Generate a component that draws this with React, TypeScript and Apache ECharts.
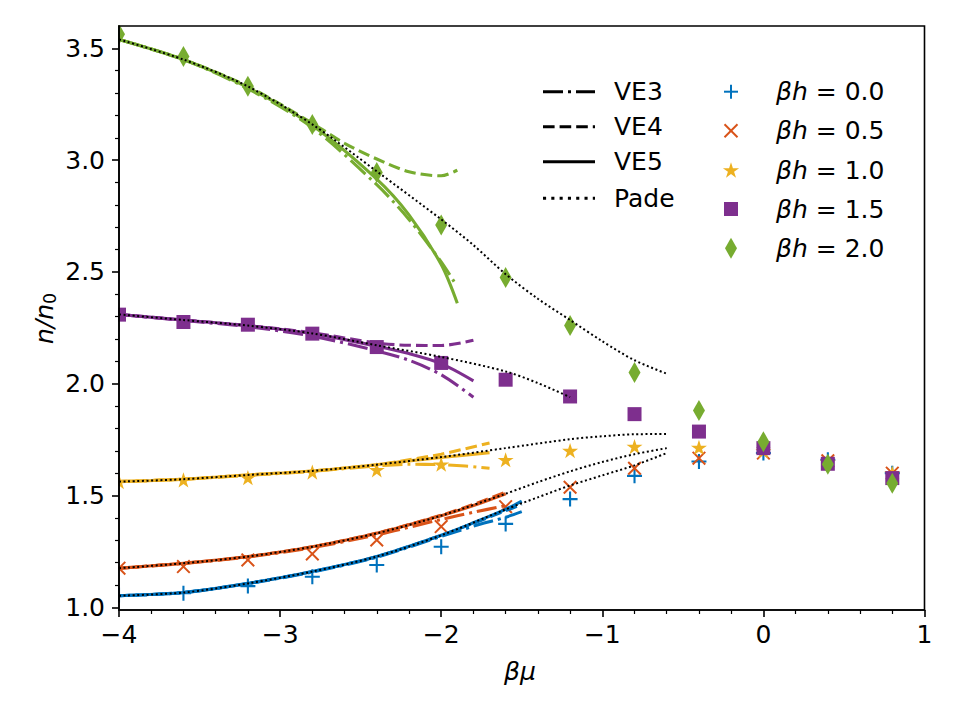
import React, { useEffect, useRef } from 'react';
import * as echarts from 'echarts';

const FONT = '"DejaVu Sans", "Liberation Sans", sans-serif';
const FS = 25;

// chemical potential grid of the simulation points
const muGrid = [-4, -3.6, -3.2, -2.8, -2.4, -2.0, -1.6, -1.2, -0.8, -0.4, 0, 0.4, 0.8];

const fieldLabels = ['0.0', '0.5', '1.0', '1.5', '2.0'];
const fieldColors = ['#0072BD', '#D95319', '#EDB120', '#7E2F8E', '#77AC30'];

// simulation data n/n0 for each βh
const sim_h00 = [1.055, 1.063, 1.095, 1.137, 1.189, 1.271, 1.373, 1.484, 1.588, 1.652, 1.69, 1.66, 1.6];
const sim_h05 = [1.175, 1.182, 1.212, 1.239, 1.301, 1.361, 1.45, 1.537, 1.622, 1.667, 1.69, 1.655, 1.6];
const sim_h10 = [1.5625, 1.57, 1.58, 1.605, 1.615, 1.64, 1.66, 1.701, 1.719, 1.715, 1.7, 1.65, 1.6];
const sim_h15 = [2.309, 2.276, 2.264, 2.224, 2.164, 2.093, 2.018, 1.943, 1.864, 1.786, 1.712, 1.642, 1.578];
const sim_h20 = [3.563, 3.464, 3.33, 3.16, 2.945, 2.71, 2.475, 2.26, 2.05, 1.88, 1.74, 1.64, 1.555];

// virial expansions (3rd, 4th, 5th order) and Pade approximant, [βμ, n/n0]
const ve3_h00 = [[-4, 1.052], [-3.6, 1.066], [-3.2, 1.106], [-2.8, 1.158], [-2.4, 1.224], [-2.0, 1.317], [-1.8, 1.363], [-1.6, 1.403], [-1.5, 1.428]];
const ve4_h00 = [[-4, 1.052], [-3.6, 1.066], [-3.2, 1.107], [-2.8, 1.16], [-2.4, 1.227], [-2.0, 1.322], [-1.8, 1.376], [-1.6, 1.432], [-1.5, 1.46]];
const ve5_h00 = [[-4, 1.052], [-3.6, 1.066], [-3.2, 1.107], [-2.8, 1.16], [-2.4, 1.227], [-2.0, 1.322], [-1.8, 1.378], [-1.6, 1.438], [-1.5, 1.475]];
const pade_h00 = [[-4, 1.052], [-3.6, 1.066], [-3.2, 1.107], [-2.8, 1.16], [-2.4, 1.227], [-2.0, 1.322], [-1.6, 1.438], [-1.4, 1.492], [-1.2, 1.545], [-1.0, 1.59], [-0.8, 1.635], [-0.6, 1.69]];

const ve3_h05 = [[-4, 1.175], [-3.6, 1.196], [-3.2, 1.225], [-2.8, 1.267], [-2.4, 1.324], [-2.0, 1.393], [-1.8, 1.425], [-1.6, 1.455]];
const ve4_h05 = [[-4, 1.175], [-3.6, 1.197], [-3.2, 1.227], [-2.8, 1.271], [-2.4, 1.332], [-2.0, 1.412], [-1.8, 1.46], [-1.6, 1.515]];
const ve5_h05 = [[-4, 1.175], [-3.6, 1.197], [-3.2, 1.227], [-2.8, 1.271], [-2.4, 1.331], [-2.0, 1.41], [-1.8, 1.455], [-1.6, 1.508]];
const pade_h05 = [[-4, 1.175], [-3.6, 1.197], [-3.2, 1.227], [-2.8, 1.271], [-2.4, 1.331], [-2.0, 1.41], [-1.6, 1.508], [-1.4, 1.56], [-1.2, 1.608], [-1.0, 1.65], [-0.8, 1.685], [-0.6, 1.712]];

const ve3_h10 = [[-4, 1.562], [-3.6, 1.573], [-3.2, 1.59], [-2.8, 1.608], [-2.4, 1.633], [-2.2, 1.64], [-2.0, 1.638], [-1.85, 1.632], [-1.7, 1.622]];
const ve4_h10 = [[-4, 1.562], [-3.6, 1.573], [-3.2, 1.592], [-2.8, 1.61], [-2.4, 1.638], [-2.2, 1.66], [-2.0, 1.685], [-1.7, 1.735]];
const ve5_h10 = [[-4, 1.562], [-3.6, 1.573], [-3.2, 1.592], [-2.8, 1.61], [-2.4, 1.638], [-2.2, 1.655], [-2.0, 1.67], [-1.7, 1.692]];
const pade_h10 = [[-4, 1.562], [-3.6, 1.573], [-3.2, 1.592], [-2.8, 1.61], [-2.4, 1.638], [-2.0, 1.672], [-1.6, 1.712], [-1.2, 1.752], [-1.0, 1.765], [-0.8, 1.774], [-0.6, 1.775]];

const ve3_h15 = [[-4, 2.31], [-3.6, 2.283], [-3.2, 2.255], [-2.8, 2.213], [-2.4, 2.147], [-2.2, 2.105], [-2.0, 2.04], [-1.8, 1.94]];
const ve4_h15 = [[-4, 2.31], [-3.6, 2.285], [-3.2, 2.26], [-2.8, 2.228], [-2.4, 2.182], [-2.2, 2.172], [-2.0, 2.171], [-1.8, 2.194]];
const ve5_h15 = [[-4, 2.31], [-3.6, 2.285], [-3.2, 2.26], [-2.8, 2.224], [-2.4, 2.168], [-2.2, 2.135], [-2.0, 2.09], [-1.8, 2.013]];
const pade_h15 = [[-4, 2.31], [-3.6, 2.285], [-3.2, 2.26], [-2.8, 2.225], [-2.4, 2.172], [-2.0, 2.12], [-1.6, 2.055], [-1.4, 2.003], [-1.2, 1.94]];

const ve3_h20 = [[-4, 3.54], [-3.6, 3.45], [-3.2, 3.32], [-2.8, 3.145], [-2.4, 2.89], [-2.2, 2.735], [-2.0, 2.545], [-1.91, 2.445]];
const ve4_h20 = [[-4, 3.54], [-3.6, 3.45], [-3.2, 3.33], [-2.8, 3.165], [-2.6, 3.075], [-2.4, 3.005], [-2.2, 2.948], [-2.0, 2.93], [-1.9, 2.955]];
const ve5_h20 = [[-4, 3.54], [-3.6, 3.45], [-3.2, 3.325], [-2.8, 3.155], [-2.4, 2.915], [-2.2, 2.755], [-2.0, 2.533], [-1.9, 2.36]];
const pade_h20 = [[-4, 3.54], [-3.6, 3.45], [-3.2, 3.33], [-2.8, 3.16], [-2.4, 2.95], [-2.0, 2.735], [-1.8, 2.62], [-1.6, 2.49], [-1.4, 2.38], [-1.2, 2.285], [-1.0, 2.19], [-0.8, 2.105], [-0.6, 2.045]];

const simSets = [sim_h00, sim_h05, sim_h10, sim_h15, sim_h20];
const ve3Sets = [ve3_h00, ve3_h05, ve3_h10, ve3_h15, ve3_h20];
const ve4Sets = [ve4_h00, ve4_h05, ve4_h10, ve4_h15, ve4_h20];
const ve5Sets = [ve5_h00, ve5_h05, ve5_h10, ve5_h15, ve5_h20];
const padeSets = [pade_h00, pade_h05, pade_h10, pade_h15, pade_h20];

const yMajor = [1.0, 1.5, 2.0, 2.5, 3.0, 3.5];
const yMinor = [1.1, 1.2, 1.3, 1.4, 1.6, 1.7, 1.8, 1.9, 2.1, 2.2, 2.3, 2.4, 2.6, 2.7, 2.8, 2.9, 3.1, 3.2, 3.3, 3.4];

// marker glyphs
const PLUS = 'path://M0.43,0 L0.57,0 L0.57,0.43 L1,0.43 L1,0.57 L0.57,0.57 L0.57,1 L0.43,1 L0.43,0.57 L0,0.57 L0,0.43 L0.43,0.43 Z';
const CROSS = 'path://M0,0.1 L0.1,0 L1,0.9 L0.9,1 Z M0.9,0 L1,0.1 L0.1,1 L0,0.9 Z';
const STAR = 'path://M0,-1 L0.2245,-0.309 L0.951,-0.309 L0.363,0.118 L0.588,0.809 L0,0.382 L-0.588,0.809 L-0.363,0.118 L-0.951,-0.309 L-0.2245,-0.309 Z';
const markerSymbols = [PLUS, CROSS, STAR, 'rect', 'diamond'];
const markerSizes: any[] = [15, 14, 16, 14, [12, 21]];

const DASHDOT = [20, 5, 3, 5];
const DASHED = [11.6, 5];
const DOTTED = [2, 2.6];
const VE_WIDTH = 3.1;

// plot frame in pixels (grid placement)
const GRID = { left: 119, right: 35.5, top: 26, bottom: 110 };

function starPoints(cx: number, cy: number, r: number) {
  const pts: number[][] = [];
  for (let k = 0; k < 10; k++) {
    const ang = -Math.PI / 2 + (k * Math.PI) / 5;
    const rr = k % 2 === 0 ? r : r * 0.382;
    pts.push([cx + rr * Math.cos(ang), cy + rr * Math.sin(ang)]);
  }
  return pts;
}

function buildLegend() {
  const els: any[] = [];
  const styleRows = [
    { name: 'VE3', dash: DASHDOT, y: 91.7 },
    { name: 'VE4', dash: DASHED, y: 126.7 },
    { name: 'VE5', dash: null, y: 161.7 },
    { name: 'Pade', dash: [3.1, 5.2], y: 198.3 },
  ];
  styleRows.forEach((r) => {
    els.push({
      type: 'line',
      z: 20,
      shape: { x1: 543, y1: r.y, x2: 595, y2: r.y },
      style: { stroke: '#000', lineWidth: VE_WIDTH, lineDash: r.dash || undefined, lineCap: 'butt' },
    });
    els.push({
      type: 'text',
      z: 20,
      x: 614,
      y: r.y,
      style: { text: r.name, fontFamily: FONT, fontSize: FS, fill: '#000', align: 'left', verticalAlign: 'middle' },
    });
  });
  const rowY = [91.7, 130.7, 170, 209, 248.3];
  const mx = 731;
  rowY.forEach((y, i) => {
    const c = fieldColors[i];
    if (i === 0) {
      els.push({ type: 'line', z: 20, shape: { x1: mx - 7, y1: y, x2: mx + 7, y2: y }, style: { stroke: c, lineWidth: 2 } });
      els.push({ type: 'line', z: 20, shape: { x1: mx, y1: y - 7, x2: mx, y2: y + 7 }, style: { stroke: c, lineWidth: 2 } });
    } else if (i === 1) {
      els.push({ type: 'line', z: 20, shape: { x1: mx - 6.5, y1: y - 6.5, x2: mx + 6.5, y2: y + 6.5 }, style: { stroke: c, lineWidth: 2 } });
      els.push({ type: 'line', z: 20, shape: { x1: mx - 6.5, y1: y + 6.5, x2: mx + 6.5, y2: y - 6.5 }, style: { stroke: c, lineWidth: 2 } });
    } else if (i === 2) {
      els.push({ type: 'polygon', z: 20, shape: { points: starPoints(mx, y + 0.8, 8.5) }, style: { fill: c } });
    } else if (i === 3) {
      els.push({ type: 'rect', z: 20, shape: { x: mx - 7, y: y - 7, width: 14, height: 14 }, style: { fill: c } });
    } else {
      els.push({ type: 'polygon', z: 20, shape: { points: [[mx, y - 10.5], [mx + 6, y], [mx, y + 10.5], [mx - 6, y]] }, style: { fill: c } });
    }
    els.push({
      type: 'text',
      z: 20,
      x: 776,
      y,
      style: {
        text: '{i|βh} = ' + fieldLabels[i],
        fontFamily: FONT,
        fontSize: FS,
        fill: '#000',
        align: 'left',
        verticalAlign: 'middle',
        rich: { i: { fontFamily: FONT, fontSize: FS, fontStyle: 'italic', fill: '#000' } },
      },
    });
  });
  return els;
}

export default function App() {
  const ref = useRef<HTMLDivElement>(null);

  useEffect(() => {
    if (!ref.current) return;
    const chart = echarts.init(ref.current, undefined, { renderer: 'svg' });

    const series: any[] = [];
    simSets.forEach((vals, i) => {
      series.push({
        type: 'scatter',
        name: 'βh = ' + fieldLabels[i],
        data: muGrid.map((x, k) => [x, vals[k]]),
        symbol: markerSymbols[i],
        symbolSize: markerSizes[i],
        symbolKeepAspect: true,
        itemStyle: { color: fieldColors[i], opacity: 1 },
        silent: true,
        z: 2,
      });
    });
    const addCurves = (sets: number[][][], dash: any, name: string) => {
      sets.forEach((pts, i) => {
        series.push({
          type: 'line',
          name: name + ' ' + fieldLabels[i],
          data: pts,
          showSymbol: false,
          symbol: 'none',
          smooth: 0.3,
          silent: true,
          lineStyle: { color: fieldColors[i], width: VE_WIDTH, type: dash, cap: 'butt' },
          z: 3,
        });
      });
    };
    addCurves(ve3Sets, DASHDOT, 'VE3');
    addCurves(ve4Sets, DASHED, 'VE4');
    addCurves(ve5Sets, 'solid', 'VE5');
    padeSets.forEach((pts, i) => {
      series.push({
        type: 'line',
        name: 'Pade ' + fieldLabels[i],
        data: pts,
        showSymbol: false,
        symbol: 'none',
        smooth: 0.3,
        silent: true,
        lineStyle: { color: '#000', width: 2, type: DOTTED, cap: 'butt' },
        z: 4,
      });
    });

    const axisColor = '#000';
    const labelStyle = { fontFamily: FONT, fontSize: FS, color: '#000' };

    // white masks outside the frame so that markers are cut at the axes edge
    const masks = [
      { type: 'rect', z: 5, silent: true, shape: { x: 0, y: 0, width: GRID.left - 0.8, height: 720 }, style: { fill: '#fff' } },
      { type: 'rect', z: 5, silent: true, shape: { x: 0, y: 0, width: 960, height: GRID.top - 0.8 }, style: { fill: '#fff' } },
    ];

    chart.setOption({
      animation: false,
      grid: {
        ...GRID,
        show: true,
        z: 10,
        borderColor: '#000',
        borderWidth: 1.6,
        backgroundColor: 'transparent',
        containLabel: false,
      },
      xAxis: {
        type: 'value',
        z: 10,
        min: -4,
        max: 1,
        interval: 1,
        axisLine: { show: true, onZero: false, lineStyle: { color: axisColor, width: 1.6 } },
        axisTick: { show: true, inside: false, length: 7, lineStyle: { color: axisColor, width: 1.6 } },
        minorTick: { show: true, splitNumber: 5, length: 4, lineStyle: { color: axisColor, width: 1.2 } },
        axisLabel: {
          ...labelStyle,
          margin: 12,
          formatter: (v: number) => (v < 0 ? '\u2212' + Math.abs(v) : String(v)),
        },
        splitLine: { show: false },
        minorSplitLine: { show: false },
      },
      yAxis: [
        {
          type: 'value',
          z: 10,
          min: 0.988,
          max: 3.6,
          axisLine: { show: true, onZero: false, lineStyle: { color: axisColor, width: 1.6 } },
          axisTick: { show: true, inside: false, length: 7, customValues: yMajor, lineStyle: { color: axisColor, width: 1.6 } },
          axisLabel: {
            ...labelStyle,
            margin: 14,
            customValues: yMajor,
            formatter: (v: number) => v.toFixed(1),
          },
          splitLine: { show: false },
        },
        {
          type: 'value',
          z: 10,
          min: 0.988,
          max: 3.6,
          position: 'left',
          offset: 0,
          axisLine: { show: false, onZero: false },
          axisTick: { show: true, inside: false, length: 4, customValues: yMinor, lineStyle: { color: axisColor, width: 1.2 } },
          axisLabel: { show: false },
          splitLine: { show: false },
        },
      ],
      series,
      graphic: [
        ...masks,
        ...buildLegend(),
        {
          type: 'text',
          z: 20,
          x: 520,
          y: 671,
          style: {
            text: 'βμ',
            fontFamily: FONT,
            fontSize: FS,
            fontStyle: 'italic',
            fill: '#000',
            align: 'center',
            verticalAlign: 'middle',
          },
        },
        {
          type: 'group',
          z: 20,
          x: 44,
          y: 318,
          rotation: Math.PI / 2,
          children: [
            {
              type: 'text',
              z: 20,
              x: -26,
              y: 0,
              style: { text: 'n/n', fontFamily: FONT, fontSize: FS, fontStyle: 'italic', fill: '#000', align: 'left', verticalAlign: 'middle' },
            },
            {
              type: 'text',
              z: 20,
              x: 14,
              y: 6,
              style: { text: '0', fontFamily: FONT, fontSize: 17.5, fill: '#000', align: 'left', verticalAlign: 'middle' },
            },
          ],
        },
      ],
    });

    return () => {
      chart.dispose();
    };
  }, []);

  return (
    <div
      ref={ref}
      style={{ position: 'fixed', left: 0, top: 0, width: 960, height: 720, background: '#fff' }}
    />
  );
}
